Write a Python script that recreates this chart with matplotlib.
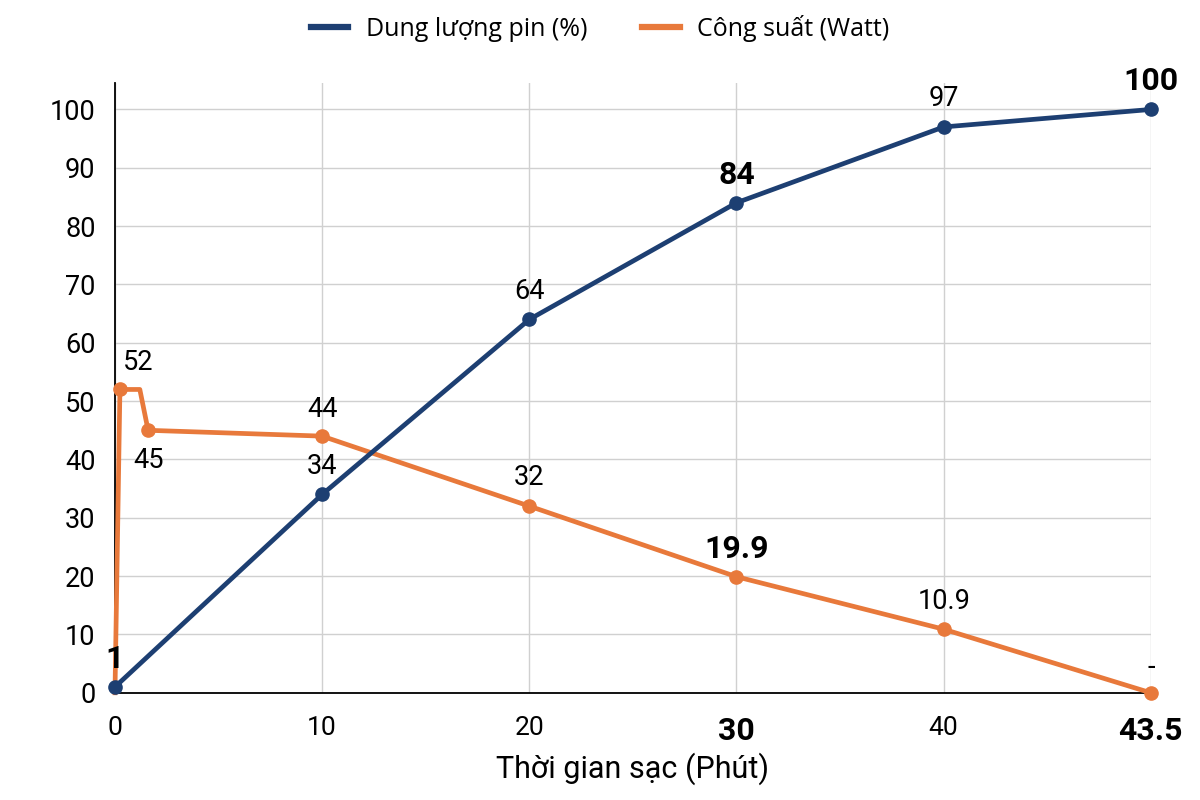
import matplotlib
matplotlib.use("Agg")
import matplotlib.pyplot as plt
from matplotlib.lines import Line2D
import numpy as np

# Data
time_battery = [0, 10, 20, 30, 40, 43.5]
battery_pct = [1, 34, 64, 84, 97, 100]
battery_labels = ["1", "34", "64", "84", "97", "100"]
battery_bold = [True, False, False, True, False, True]

time_power = [0, 0.24, 1.2, 1.6, 10, 20, 30, 40, 43.5]
power_watt = [0, 52, 52, 45, 44, 32, 19.9, 10.9, 0]
power_marker_idx = [1, 3, 4, 5, 6, 7, 8]
power_labels = {1: "52", 3: "45", 4: "44", 5: "32", 6: "19.9", 7: "10.9", 8: "-"}
power_bold = {6}

x_ticks = [0, 10, 20, 30, 40, 43.5]
x_ticklabels = ["0", "10", "20", "30", "40", "43.5"]
x_tick_bold = [False, False, False, True, False, True]
y_ticks = list(range(0, 101, 10))

BLUE = "#1d3f72"
ORANGE = "#e8793b"

plt.rcParams['font.family'] = ['Roboto', 'DejaVu Sans']

# evenly spaced tick positions (piecewise-linear time axis)
_pos = np.arange(len(x_ticks), dtype=float)
def _fwd(t):
    return np.interp(t, x_ticks, _pos, left=None, right=None)
def _inv(p):
    return np.interp(p, _pos, x_ticks)

fig = plt.figure(figsize=(12, 8), dpi=100)
ax = fig.add_axes([0.0958, 0.134, 0.959 - 0.0958, 0.896 - 0.134])
ax.set_xscale('function', functions=(_fwd, _inv))

ax.plot(time_battery, battery_pct, color=BLUE, lw=3.4, marker='o', ms=9.5,
        clip_on=False, zorder=4)
ax.plot(time_power, power_watt, color=ORANGE, lw=3.4, clip_on=False, zorder=3)
ax.plot([time_power[i] for i in power_marker_idx], [power_watt[i] for i in power_marker_idx],
        color=ORANGE, lw=0, marker='o', ms=9.5, clip_on=False, zorder=3)

ax.set_xlim(0, 43.5)
ax.set_ylim(0, 104.5)
ax.set_xticks(x_ticks)
ax.set_xticklabels(x_ticklabels, fontsize=19)
ax.xaxis.set_minor_locator(matplotlib.ticker.NullLocator())
for lbl, b in zip(ax.get_xticklabels(), x_tick_bold):
    if b:
        lbl.set_fontweight('bold')
        lbl.set_fontsize(23)
ax.set_yticks(y_ticks)
ax.set_yticklabels([str(v) for v in y_ticks], fontsize=19.5)
ax.tick_params(axis='x', length=0, pad=17)
ax.tick_params(axis='y', length=0, pad=14)

ax.grid(True, color="#d0d0d0", lw=1)
ax.set_axisbelow(True)
for s in ["top", "right"]:
    ax.spines[s].set_visible(False)
for s in ["left", "bottom"]:
    ax.spines[s].set_color("black")
    ax.spines[s].set_linewidth(1.3)

# Battery labels
for x, y, t, b in zip(time_battery, battery_pct, battery_labels, battery_bold):
    ax.annotate(t, (x, y), xytext=(0, 28), textcoords='offset pixels',
                ha='center', va='center', fontsize=23 if b else 19.5,
                fontweight='bold' if b else 'normal', color='black', zorder=6)

# Power labels
offsets = {1: (18, 27), 3: (0, -30), 4: (0, 27), 5: (0, 29),
           6: (0, 28), 7: (0, 28), 8: (0, 25)}
for i, t in power_labels.items():
    dx, dy = offsets[i]
    b = i in power_bold
    ax.annotate(t, (time_power[i], power_watt[i]), xytext=(dx, dy), textcoords='offset pixels',
                ha='center', va='center', fontsize=23 if b else 19.5,
                fontweight='bold' if b else 'normal', color='black', zorder=6)

ax.set_xlabel("Thời gian sạc (Phút)", fontsize=22, labelpad=4)

handles = [Line2D([], [], color=BLUE, lw=4.5), Line2D([], [], color=ORANGE, lw=4.5)]
fig.legend(handles, ["Dung lượng pin (%)", "Công suất (Watt)"],
           loc='upper center', bbox_to_anchor=(0.5, 1.01), ncol=2, frameon=False,
           prop={'family': ['Open Sans', 'DejaVu Sans'], 'size': 18},
           handlelength=1.5, columnspacing=2.2, handletextpad=0.7)

fig.savefig("out.png", dpi=100, facecolor='white')
